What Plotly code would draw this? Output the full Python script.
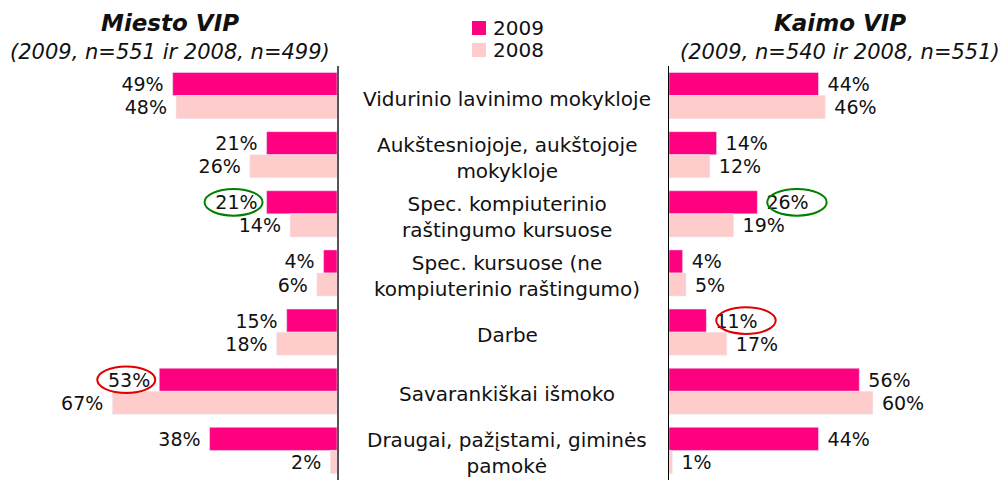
import plotly.graph_objects as go

categories = [
    "Vidurinio lavinimo mokykloje",
    "Aukštesniojoje, aukštojoje<br>mokykloje",
    "Spec. kompiuterinio<br>raštingumo kursuose",
    "Spec. kursuose (ne<br>kompiuterinio raštingumo)",
    "Darbe",
    "Savarankiškai išmoko",
    "Draugai, pažįstami, giminės<br>pamokė",
]
series_names = ["2009", "2008"]
miesto_2009 = [49, 21, 21, 4, 15, 53, 38]
miesto_2008 = [48, 26, 14, 6, 18, 67, 2]
kaimo_2009 = [44, 14, 26, 4, 11, 56, 44]
kaimo_2008 = [46, 12, 19, 5, 17, 60, 1]

# highlighted 2009 labels: (panel, category index, colour)
highlights = [("left", 2, "#008000"), ("left", 5, "#E00000"),
              ("right", 2, "#008000"), ("right", 4, "#E00000")]

C2009 = "#FF0080"
C2008 = "#FFCCCC"
FONT = "Verdana, DejaVu Sans, sans-serif"
TXT = "#111"
ids = list(range(len(categories)))
W, H = 1002, 480


def bar(vals, color, name, xa, ya, left):
    return go.Bar(y=ids, x=vals, orientation="h", name=name,
                  marker_color=color, xaxis=xa, yaxis=ya, showlegend=False,
                  text=[(f"{v}% " if left else f" {v}%") for v in vals],
                  textposition="outside", constraintext="none", cliponaxis=False,
                  textfont=dict(size=19, color=TXT), hoverinfo="skip")


fig = go.Figure()
fig.add_trace(bar(miesto_2009, C2009, series_names[0], "x", "y", True))
fig.add_trace(bar(miesto_2008, C2008, series_names[1], "x", "y", True))
fig.add_trace(bar(kaimo_2009, C2009, series_names[0], "x2", "y2", False))
fig.add_trace(bar(kaimo_2008, C2008, series_names[1], "x2", "y2", False))

ydom = [0, 0.8625]
fig.update_layout(
    width=W, height=H,
    margin=dict(l=0, r=0, t=0, b=0),
    paper_bgcolor="white", plot_bgcolor="white",
    font=dict(family=FONT, size=19, color=TXT),
    barmode="group", bargap=0.22, bargroupgap=0,
    showlegend=False,
    xaxis=dict(domain=[0, 337 / W], range=[100.5, 0], visible=False, fixedrange=True),
    yaxis=dict(domain=ydom, anchor="x", side="right", range=[6.5, -0.5],
               showline=True, linecolor="#555", linewidth=1.5,
               showticklabels=False, showgrid=False, zeroline=False, ticks=""),
    xaxis2=dict(domain=[669 / W, 1], range=[0, 98], visible=False, fixedrange=True),
    yaxis2=dict(domain=ydom, anchor="x2", side="left", range=[6.5, -0.5],
                showline=True, linecolor="#000", linewidth=1.5,
                showticklabels=False, showgrid=False, zeroline=False, ticks=""),
)

# legend drawn as swatches + text
for k, (name, col) in enumerate(zip(series_names, [C2009, C2008])):
    yc = 28 + 22 * k
    fig.add_shape(type="rect", xref="paper", yref="paper",
                  x0=472 / W, x1=486 / W, y0=1 - (yc - 7) / H, y1=1 - (yc + 7) / H,
                  fillcolor=col, line=dict(width=0))
    fig.add_annotation(x=491 / W, xref="paper", y=1 - yc / H, yref="paper",
                       text=name, showarrow=False, font=dict(size=20, color=TXT),
                       xanchor="left", yanchor="middle")

# category labels in the middle
for i, c in enumerate(categories):
    fig.add_annotation(x=507 / W, xref="paper", y=i, yref="y", yshift=-3,
                       text=c, showarrow=False, font=dict(size=20, color=TXT),
                       xanchor="center", yanchor="middle", align="center")

# panel titles
for xc, title, sub in [(170 / W, "Miesto VIP", "(2009, n=551 ir 2008, n=499)"),
                       (840 / W, "Kaimo VIP", "(2009, n=540 ir 2008, n=551)")]:
    fig.add_annotation(x=xc, xref="paper", y=1 - 23 / H, yref="paper",
                       text=f"<b><i>{title}</i></b>", showarrow=False,
                       font=dict(size=23, color=TXT), xanchor="center", yanchor="middle")
    fig.add_annotation(x=xc, xref="paper", y=1 - 52 / H, yref="paper",
                       text=f"<i>{sub}</i>", showarrow=False,
                       font=dict(size=21, color=TXT), xanchor="center", yanchor="middle")

# highlight ellipses around selected 2009 labels
for panel, idx, col in highlights:
    if panel == "left":
        v = miesto_2009[idx]
        x0, x1, xr, yr = v + 1.2, v + 18.5, "x", "y"
    else:
        v = kaimo_2009[idx]
        x0, x1, xr, yr = v + 2.9, v + 20.4, "x2", "y2"
    yc = idx - 0.195
    fig.add_shape(type="circle", xref=xr, yref=yr, x0=x0, x1=x1,
                  y0=yc - 0.225, y1=yc + 0.225,
                  line=dict(color=col, width=2), fillcolor="rgba(0,0,0,0)")

fig.write_html("out.html", config={"displayModeBar": False, "staticPlot": True},
               post_script="document.body.style.margin='0';")
